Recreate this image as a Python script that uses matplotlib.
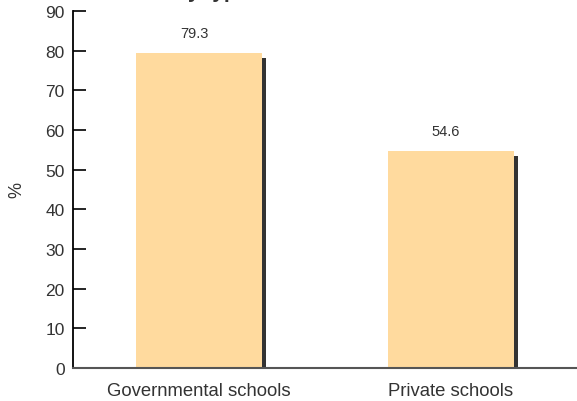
import matplotlib.pyplot as plt
import matplotlib.patheffects as pe

plt.rcParams['font.family'] = ['Liberation Sans', 'DejaVu Sans']

categorias = ["Governmental schools", "Private schools"]
porcentajes = [79.3, 54.6]

COLOR_BARRA = '#FFDA9E'
COLOR_SOMBRA = '#333333'
COLOR_TEXTO = '#333333'

fig = plt.figure(figsize=(5.77, 4.02), dpi=100)
ax = fig.add_axes([73 / 577, 1 - 369 / 402, 1 - 73 / 577, (369 - 12) / 402])

posiciones = range(len(categorias))
barras = ax.bar(posiciones, porcentajes, width=0.5, color=COLOR_BARRA, zorder=2)

# sombra oscura desplazada a la derecha y abajo de cada barra
for b in barras:
    b.set_path_effects([pe.SimplePatchShadow(offset=(3, -3), shadow_rgbFace=COLOR_SOMBRA, alpha=1.0),
                        pe.Normal()])

for x, v in zip(posiciones, porcentajes):
    ax.annotate(f"{v}", (x - 0.02, v), xytext=(0, 10), textcoords='offset points',
                ha='center', va='bottom', fontsize=10.5, color=COLOR_TEXTO)

ax.set_xlim(-0.5, 1.5)
ax.set_ylim(0, 90)
ax.set_yticks(range(0, 91, 10))
ax.set_xticks(list(posiciones))
ax.set_xticklabels(categorias, fontsize=13.3, color=COLOR_TEXTO)
ax.tick_params(axis='x', length=0, pad=10)
ax.tick_params(axis='y', direction='in', length=9, width=1.2, labelsize=12.5,
               labelcolor=COLOR_TEXTO, pad=6)
ax.set_ylabel('%', fontsize=13, color=COLOR_TEXTO, labelpad=14)

for lado in ['top', 'right']:
    ax.spines[lado].set_visible(False)
ax.spines['left'].set_linewidth(1.3)
ax.spines['bottom'].set_color('#555555')
ax.spines['bottom'].set_linewidth(1.5)
ax.spines['bottom'].set_zorder(3)

# título (queda casi fuera del borde superior)
fig.text(175 / 577, 1.004, "by type of school", ha='left', va='baseline',
         fontsize=15, fontweight='bold', color=COLOR_TEXTO)

fig.savefig("out.png", dpi=100)
